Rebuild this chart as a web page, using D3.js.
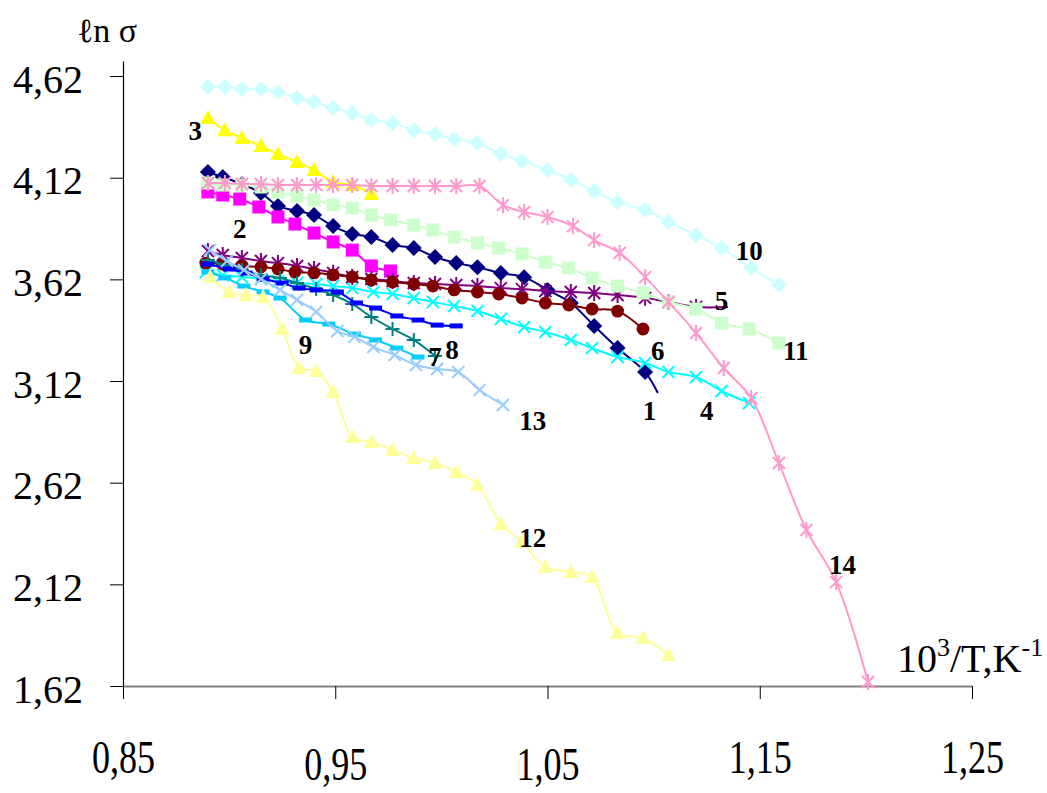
<!DOCTYPE html>
<html>
<head>
<meta charset="utf-8">
<script src="https://cdn.jsdelivr.net/npm/d3@7"></script>
<style>
  body { margin: 0; background: #fff; }
  svg { font-family: 'Liberation Serif', 'DejaVu Serif', serif; }
</style>
</head>
<body>
<svg id="chart"></svg>
<script>
const xTicks = [0.85, 0.95, 1.05, 1.15, 1.25]
const yTicks = [1.62, 2.12, 2.62, 3.12, 3.62, 4.12, 4.62]

// series values, [10^3/T, ln sigma]
const s1 = [[0.890,4.148],[0.897,4.123],[0.906,4.089],[0.915,4.045],[0.923,3.981],[0.932,3.956],[0.940,3.936],[0.949,3.882],[0.958,3.843],[0.967,3.828],[0.977,3.789],[0.987,3.774],[0.997,3.730],[1.007,3.700],[1.017,3.680],[1.028,3.651],[1.039,3.631],[1.050,3.568],[1.061,3.504],[1.072,3.391],[1.083,3.282],[1.096,3.164],[1.102,3.061]]
const s2 = [[0.890,4.050],[0.897,4.035],[0.905,4.015],[0.914,3.976],[0.923,3.927],[0.931,3.892],[0.940,3.848],[0.949,3.804],[0.958,3.764],[0.967,3.686],[0.976,3.661]]
const s3 = [[0.890,4.414],[0.898,4.354],[0.906,4.315],[0.915,4.276],[0.923,4.236],[0.932,4.197],[0.940,4.158],[0.949,4.099],[0.958,4.084],[0.967,4.040]]
const s4 = [[0.889,3.656],[0.897,3.641],[0.906,3.632],[0.915,3.622],[0.923,3.612],[0.932,3.602],[0.941,3.597],[0.949,3.587],[0.958,3.577],[0.968,3.558],[0.977,3.548],[0.987,3.528],[0.996,3.509],[1.006,3.489],[1.017,3.464],[1.028,3.425],[1.039,3.386],[1.049,3.361],[1.061,3.322],[1.071,3.282],[1.083,3.238],[1.096,3.209],[1.107,3.164],[1.120,3.140],[1.132,3.071],[1.145,3.012]]
const s5 = [[0.890,3.759],[0.897,3.740],[0.906,3.725],[0.915,3.710],[0.923,3.700],[0.932,3.686],[0.940,3.671],[0.949,3.652],[0.958,3.632],[0.967,3.622],[0.977,3.612],[0.987,3.602],[0.997,3.597],[1.007,3.592],[1.017,3.587],[1.028,3.577],[1.038,3.572],[1.049,3.563],[1.061,3.558],[1.072,3.553],[1.083,3.543],[1.096,3.529],[1.107,3.509],[1.120,3.484],[1.135,3.484]]
const s6 = [[0.889,3.700],[0.897,3.695],[0.906,3.686],[0.915,3.681],[0.923,3.671],[0.931,3.656],[0.940,3.652],[0.949,3.642],[0.958,3.632],[0.967,3.617],[0.977,3.607],[0.987,3.597],[0.996,3.587],[1.006,3.568],[1.017,3.558],[1.027,3.548],[1.038,3.528],[1.049,3.504],[1.060,3.494],[1.071,3.474],[1.083,3.464],[1.095,3.376]]
const s7 = [[0.890,3.715],[0.898,3.691],[0.906,3.666],[0.915,3.641],[0.924,3.627],[0.932,3.602],[0.941,3.573],[0.949,3.543],[0.958,3.499],[0.967,3.435],[0.977,3.376],[0.987,3.322],[0.997,3.243]]
const s8 = [[0.890,3.695],[0.900,3.671],[0.908,3.651],[0.916,3.622],[0.925,3.602],[0.933,3.577],[0.941,3.568],[0.951,3.558],[0.960,3.504],[0.969,3.479],[0.979,3.440],[0.989,3.420],[0.998,3.395],[1.007,3.391]]
const s9 = [[0.890,3.656],[0.898,3.627],[0.907,3.587],[0.916,3.558],[0.924,3.528],[0.936,3.420],[0.947,3.400],[0.959,3.351],[0.969,3.322],[0.979,3.282],[0.989,3.238]]
const s10 = [[0.890,4.566],[0.898,4.566],[0.906,4.556],[0.915,4.556],[0.923,4.541],[0.932,4.512],[0.940,4.492],[0.949,4.463],[0.958,4.438],[0.967,4.404],[0.977,4.389],[0.987,4.354],[0.997,4.335],[1.006,4.310],[1.017,4.291],[1.028,4.236],[1.038,4.202],[1.050,4.158],[1.061,4.109],[1.072,4.054],[1.083,4.000],[1.096,3.961],[1.107,3.902],[1.120,3.838],[1.132,3.774],[1.146,3.676],[1.159,3.592]]
const s11 = [[0.890,4.094],[0.897,4.084],[0.906,4.084],[0.915,4.074],[0.923,4.050],[0.932,4.030],[0.940,4.010],[0.949,3.986],[0.958,3.971],[0.967,3.936],[0.976,3.912],[0.987,3.887],[0.996,3.863],[1.006,3.828],[1.017,3.799],[1.027,3.774],[1.038,3.745],[1.049,3.705],[1.060,3.676],[1.071,3.627],[1.083,3.587],[1.095,3.553],[1.107,3.509],[1.120,3.474],[1.132,3.405],[1.145,3.376],[1.159,3.307]]
const s12 = [[0.891,3.632],[0.900,3.558],[0.908,3.543],[0.916,3.533],[0.925,3.376],[0.933,3.184],[0.941,3.169],[0.949,3.066],[0.958,2.845],[0.967,2.820],[0.977,2.781],[0.987,2.741],[0.997,2.717],[1.007,2.672],[1.017,2.609],[1.028,2.417],[1.038,2.328],[1.049,2.205],[1.061,2.181],[1.071,2.156],[1.083,1.881],[1.095,1.856],[1.107,1.772]]
const s13 = [[0.891,3.764],[0.899,3.710],[0.907,3.666],[0.915,3.622],[0.924,3.568],[0.932,3.519],[0.941,3.460],[0.951,3.366],[0.959,3.337],[0.968,3.287],[0.978,3.248],[0.988,3.199],[0.998,3.179],[1.008,3.164],[1.018,3.076],[1.029,3.002]]
const s14 = [[0.890,4.094],[0.898,4.094],[0.906,4.089],[0.915,4.089],[0.923,4.084],[0.932,4.084],[0.941,4.084],[0.949,4.084],[0.958,4.084],[0.967,4.079],[0.977,4.079],[0.987,4.079],[0.997,4.079],[1.007,4.079],[1.018,4.079],[1.029,3.985],[1.039,3.951],[1.050,3.927],[1.062,3.882],[1.072,3.813],[1.084,3.750],[1.096,3.631],[1.107,3.509],[1.120,3.356],[1.133,3.184],[1.146,3.036],[1.159,2.717],[1.172,2.387],[1.186,2.131],[1.201,1.640]]

const seriesData = [s1, s2, s3, s4, s5, s6, s7, s8, s9, s10, s11, s12, s13, s14]
const seriesNames = ['1','2','3','4','5','6','7','8','9','10','11','12','13','14']
const seriesColors = ['#000080','#ff00ff','#ffff00','#00ffff','#800080','#800000','#008080',
    '#0000ff','#00ccff','#ccffff','#ccffcc','#ffff99','#99ccff','#ff99cc']
const seriesMarkers = ['diamond','square','triangle','x','star','circle','plus',
    'dash','dash','diamond','square','triangle','x','star']
// curves whose line runs on past the last drawn marker
const openEnded = ['1', '5']
// where each curve number sits, in data units
const labelPos = [[1.098,2.977],[0.905,3.872],[0.884,4.354],[1.125,2.977],[1.132,3.518],
    [1.102,3.272],[0.997,3.238],[1.005,3.277],[0.936,3.297],[1.145,3.764],
    [1.167,3.272],[1.043,2.348],[1.043,2.928],[1.189,2.215]]

const width = 1047, height = 793

const x = d3.scaleLinear().domain([0.85, 1.25]).range([123, 972])
const y = d3.scaleLinear().domain([1.62, 4.694]).range([686, 61])
const comma = d => d.toFixed(2).replace('.', ',')

const svg = d3.select('#chart')
    .attr('width', width)
    .attr('height', height)

// Axes
const yAxis = svg.append('g')
    .attr('transform', `translate(${x(0.85)},0)`)
    .call(d3.axisLeft(y).tickValues(yTicks).tickSize(13).tickSizeOuter(0)
        .tickPadding(27).tickFormat(comma))
yAxis.select('.domain').attr('stroke', '#000').attr('stroke-width', 1.2)
yAxis.selectAll('.tick line').attr('stroke', '#000')
yAxis.selectAll('text')
    .attr('font-family', "'Liberation Serif', serif")
    .attr('font-size', 40)
    .attr('fill', '#000')
    .attr('dy', '0.4em')

const xAxis = svg.append('g')
    .attr('transform', `translate(0,${y(1.62)})`)
    .call(d3.axisBottom(x).tickValues(xTicks).tickSize(13).tickSizeOuter(0).tickFormat(comma))
xAxis.select('.domain').attr('stroke', '#808080').attr('stroke-width', 2)
xAxis.selectAll('.tick line').attr('stroke', '#000')
xAxis.selectAll('text')
    .attr('font-family', "'Liberation Serif', serif")
    .attr('font-size', 38)
    .attr('fill', '#000')
    .attr('y', 0)
    .attr('dy', 0)
    .attr('transform', (d, i) => `translate(0,${i === 1 || i === 2 ? 94 : 87}) scale(0.95,1.22)`)

// Axis titles
svg.append('text')
    .attr('x', 107).attr('y', 42)
    .attr('text-anchor', 'middle')
    .attr('font-size', 34)
    .text('ℓn σ')

const xt = svg.append('text')
    .attr('x', 897).attr('y', 672)
    .attr('font-size', 40)
xt.append('tspan').text('10')
xt.append('tspan').attr('font-size', 26).attr('dy', -16).text('3')
xt.append('tspan').attr('dy', 16).text('/T,K')
xt.append('tspan').attr('font-size', 26).attr('dy', -16).text('-1')

// Markers
function markerPath(type) {
    switch (type) {
        case 'diamond': return 'M0,-8L8,0L0,8L-8,0Z'
        case 'square': return 'M-6.5,-6.5H6.5V6.5H-6.5Z'
        case 'triangle': return 'M0,-8L7.5,6L-7.5,6Z'
        case 'circle': return d3.symbol(d3.symbolCircle, 130)()
        case 'x': return 'M-6,-6L6,6M6,-6L-6,6'
        case 'star': return 'M-6,-6L6,6M6,-6L-6,6M0,-8V8'
        case 'plus': return 'M-7,0H7M0,-7V7'
        case 'dash': return 'M-6.5,-2.5H6.5V2.5H-6.5Z'
    }
}
const stroked = t => t === 'x' || t === 'star' || t === 'plus'

const line = d3.line()
    .x(d => x(d[0]))
    .y(d => y(d[1]))
    .curve(d3.curveCatmullRom.alpha(0.5))

seriesData.forEach((data, i) => {
    const g = svg.append('g').attr('class', 'series s' + seriesNames[i])
    const col = seriesColors[i], mk = seriesMarkers[i]
    const marked = openEnded.includes(seriesNames[i]) ? data.slice(0, -1) : data

    g.append('path')
        .attr('d', line(data))
        .attr('fill', 'none')
        .attr('stroke', col)
        .attr('stroke-width', 2)

    g.selectAll('path.mk')
        .data(marked)
        .enter()
            .append('path').classed('mk', true)
            .attr('transform', d => `translate(${x(d[0])},${y(d[1])})`)
            .attr('d', markerPath(mk))
            .attr('fill', stroked(mk) ? 'none' : col)
            .attr('stroke', stroked(mk) ? col : 'none')
            .attr('stroke-width', 2)
})

// Curve numbers
svg.append('g').selectAll('text')
    .data(labelPos)
    .enter()
        .append('text')
        .attr('x', d => x(d[0]))
        .attr('y', d => y(d[1]))
        .attr('text-anchor', 'middle')
        .attr('dy', '0.35em')
        .attr('font-size', 27)
        .attr('font-weight', 'bold')
        .text((d, i) => seriesNames[i])
</script>
</body>
</html>
